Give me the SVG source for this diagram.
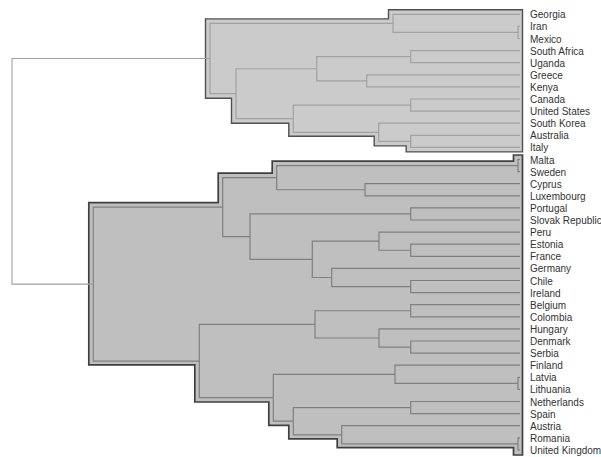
<svg xmlns="http://www.w3.org/2000/svg" width="601" height="457" viewBox="0 0 601 457">
<style>
.c1fill{fill:#cbcbcb;stroke:#505050;stroke-width:1.4}
.c2fill{fill:#bfbfbf;stroke:#404040;stroke-width:1.7}
.c1 path{fill:none;stroke:#a2a2a2;stroke-width:1.2}
.c2 path{fill:none;stroke:#808080;stroke-width:1.2}
.root{fill:none;stroke:#a0a0a0;stroke-width:1.1}
text{font-family:"Liberation Sans",Arial,sans-serif;font-size:10px;fill:#333333}
</style>
<g id="cluster1">
<polygon class="c1fill" points="205.5,18.9 388.5,18.9 388.5,9.8 522.5,9.8 522.5,151.9 406.2,151.9 406.2,145.9 374.2,145.9 374.2,136.3 288.8,136.3 288.8,123.2 231.5,123.2 231.5,98.2 205.5,98.2"/>
</g>
<g id="cluster2">
<polygon class="c2fill" points="88.8,202.7 218.2,202.7 218.2,173.2 272.2,173.2 272.2,161.1 513.5,161.1 513.5,155 522.5,155 522.5,455 513.5,455 513.5,447.6 337.2,447.6 337.2,438.8 288.8,438.8 288.8,425.4 268.8,425.4 268.8,402 194.8,402 194.8,364.8 88.8,364.8"/>
</g>
<g id="connectors">
<g class="c1">
<path d="M520 26.4H518V38.5H520"/>
<path d="M520 14.3H393V32.45H518"/>
<path d="M520 50.6H410.7V62.7H520"/>
<path d="M520 74.8H366.7V86.9H520"/>
<path d="M410.7 56.65H316.7V80.85H366.7"/>
<path d="M520 99H410.7V111.1H520"/>
<path d="M520 135.3H410.7V147.4H520"/>
<path d="M520 123.2H378.7V141.35H410.7"/>
<path d="M410.7 105.05H293.3V132.3H378.7"/>
<path d="M316.7 68.75H236V118.7H293.3"/>
<path d="M393 23.4H210V93.7H236"/>
</g>
<g class="c2">
<path d="M520 159.5H518V171.6H520"/>
<path d="M520 183.7H365V195.8H520"/>
<path d="M518 165.55H276.7V189.75H365"/>
<path d="M520 207.9H410.7V220H520"/>
<path d="M520 244.2H410.7V256.3H520"/>
<path d="M520 232.1H379V250.25H410.7"/>
<path d="M520 280.5H410.7V292.6H520"/>
<path d="M520 268.4H331.7V286.55H410.7"/>
<path d="M379 241.2H312.3V277.5H331.7"/>
<path d="M410.7 213.95H250V259.35H312.3"/>
<path d="M276.7 177.65H222.7V236.65H250"/>
<path d="M520 304.7H410.7V316.8H520"/>
<path d="M520 341H410.7V353.1H520"/>
<path d="M520 328.9H379V347.05H410.7"/>
<path d="M410.7 310.75H315V337.98H379"/>
<path d="M520 377.3H518V389.4H520"/>
<path d="M520 365.2H395V383.35H518"/>
<path d="M520 401.5H410.7V413.6H520"/>
<path d="M520 437.8H518V449.9H520"/>
<path d="M520 425.7H341.7V443.85H518"/>
<path d="M410.7 407.55H293.3V434.78H341.7"/>
<path d="M395 374.28H273.3V421.16H293.3"/>
<path d="M315 324.36H199.3V397.72H273.3"/>
<path d="M222.7 207.15H93.3V361.04H199.3"/>
</g>
<path class="root" d="M210 58.55H12V284.1H93.3"/>
</g>
<g id="labels">
<g id="n-georgia"><text x="530" y="18.3">Georgia</text></g>
<g id="n-iran"><text x="530" y="30.4">Iran</text></g>
<g id="n-mexico"><text x="530" y="42.5">Mexico</text></g>
<g id="n-south-africa"><text x="530" y="54.6">South Africa</text></g>
<g id="n-uganda"><text x="530" y="66.7">Uganda</text></g>
<g id="n-greece"><text x="530" y="78.8">Greece</text></g>
<g id="n-kenya"><text x="530" y="90.9">Kenya</text></g>
<g id="n-canada"><text x="530" y="103">Canada</text></g>
<g id="n-united-states"><text x="530" y="115.1">United States</text></g>
<g id="n-south-korea"><text x="530" y="127.2">South Korea</text></g>
<g id="n-australia"><text x="530" y="139.3">Australia</text></g>
<g id="n-italy"><text x="530" y="151.4">Italy</text></g>
<g id="n-malta"><text x="530" y="163.5">Malta</text></g>
<g id="n-sweden"><text x="530" y="175.6">Sweden</text></g>
<g id="n-cyprus"><text x="530" y="187.7">Cyprus</text></g>
<g id="n-luxembourg"><text x="530" y="199.8">Luxembourg</text></g>
<g id="n-portugal"><text x="530" y="211.9">Portugal</text></g>
<g id="n-slovak-republic"><text x="530" y="224">Slovak Republic</text></g>
<g id="n-peru"><text x="530" y="236.1">Peru</text></g>
<g id="n-estonia"><text x="530" y="248.2">Estonia</text></g>
<g id="n-france"><text x="530" y="260.3">France</text></g>
<g id="n-germany"><text x="530" y="272.4">Germany</text></g>
<g id="n-chile"><text x="530" y="284.5">Chile</text></g>
<g id="n-ireland"><text x="530" y="296.6">Ireland</text></g>
<g id="n-belgium"><text x="530" y="308.7">Belgium</text></g>
<g id="n-colombia"><text x="530" y="320.8">Colombia</text></g>
<g id="n-hungary"><text x="530" y="332.9">Hungary</text></g>
<g id="n-denmark"><text x="530" y="345">Denmark</text></g>
<g id="n-serbia"><text x="530" y="357.1">Serbia</text></g>
<g id="n-finland"><text x="530" y="369.2">Finland</text></g>
<g id="n-latvia"><text x="530" y="381.3">Latvia</text></g>
<g id="n-lithuania"><text x="530" y="393.4">Lithuania</text></g>
<g id="n-netherlands"><text x="530" y="405.5">Netherlands</text></g>
<g id="n-spain"><text x="530" y="417.6">Spain</text></g>
<g id="n-austria"><text x="530" y="429.7">Austria</text></g>
<g id="n-romania"><text x="530" y="441.8">Romania</text></g>
<g id="n-united-kingdom"><text x="530" y="453.9">United Kingdom</text></g>
</g>
</svg>
